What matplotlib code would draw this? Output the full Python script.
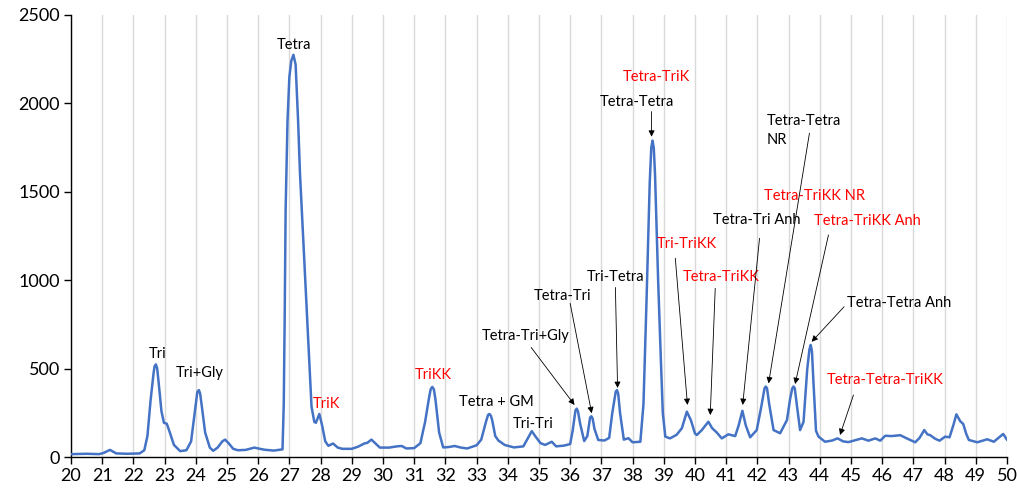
import matplotlib
matplotlib.use("Agg")
import matplotlib.pyplot as plt

# retention time (min) and detector signal
time = [20.0, 20.5, 20.9, 21.05, 21.25, 21.45, 21.8, 22.2, 22.35, 22.45, 22.55, 22.65,
        22.68, 22.72, 22.76, 22.8, 22.9, 22.98, 23.07, 23.15, 23.3, 23.5, 23.7, 23.85,
        23.95, 24.05, 24.1, 24.14, 24.2, 24.3, 24.45, 24.56, 24.7, 24.85, 24.94, 25.05,
        25.2, 25.35, 25.6, 25.88, 26.0, 26.2, 26.5, 26.78, 26.82, 26.85, 26.88, 26.94,
        27.0, 27.06, 27.13, 27.2, 27.28, 27.34, 27.5, 27.61, 27.71, 27.8, 27.85, 27.96,
        28.05, 28.15, 28.25, 28.4, 28.55, 28.7, 29.0, 29.2, 29.4, 29.5, 29.63, 29.75,
        29.9, 30.2, 30.45, 30.6, 30.75, 31.0, 31.2, 31.35, 31.48, 31.53, 31.58, 31.63,
        31.68, 31.8, 31.93, 32.1, 32.3, 32.5, 32.7, 33.0, 33.15, 33.3, 33.37, 33.41,
        33.46, 33.5, 33.6, 33.7, 33.9, 34.2, 34.5, 34.65, 34.77, 34.9, 35.05, 35.2,
        35.41, 35.55, 35.8, 36.0, 36.08, 36.17, 36.21, 36.25, 36.32, 36.45, 36.55, 36.64,
        36.68, 36.72, 36.78, 36.9, 37.1, 37.25, 37.35, 37.46, 37.5, 37.54, 37.6, 37.72,
        37.87, 38.0, 38.25, 38.35, 38.45, 38.55, 38.6, 38.64, 38.68, 38.72, 38.82, 38.9,
        38.97, 39.05, 39.2, 39.41, 39.58, 39.74, 39.87, 40.0, 40.06, 40.22, 40.43, 40.55,
        40.7, 40.86, 41.07, 41.29, 41.4, 41.52, 41.63, 41.77, 41.98, 42.12, 42.23, 42.27,
        42.31, 42.38, 42.52, 42.73, 42.95, 43.05, 43.12, 43.16, 43.2, 43.27, 43.37, 43.48,
        43.6, 43.67, 43.71, 43.75, 43.8, 43.88, 43.96, 44.17, 44.4, 44.57, 44.75, 44.92,
        45.24, 45.35, 45.56, 45.78, 45.94, 46.1, 46.3, 46.58, 46.79, 47.06, 47.2, 47.35,
        47.45, 47.54, 47.7, 47.84, 48.02, 48.16, 48.28, 48.38, 48.5, 48.6, 48.7, 48.78,
        49.05, 49.37, 49.58, 49.88, 50.0]
signal = [18, 20, 18, 25, 42, 22, 20, 22, 40, 120, 320, 480,
          515, 525, 505, 440, 260, 195, 190, 150, 70, 35, 40, 90,
          230, 370, 380, 360, 280, 140, 55, 37, 55, 90, 100, 80,
          48, 40, 42, 55, 50, 43, 38, 45, 300, 800, 1400, 1900,
          2150, 2240, 2275, 2220, 1900, 1605, 1040, 663, 286, 200, 195, 245,
          180, 90, 65, 78, 55, 48, 48, 60, 78, 82, 100, 80,
          55, 55, 62, 64, 50, 52, 80, 200, 340, 385, 398, 385,
          330, 140, 56, 58, 64, 55, 50, 68, 100, 200, 240, 245,
          235, 210, 120, 95, 70, 56, 62, 110, 148, 115, 80, 70,
          88, 62, 66, 75, 150, 265, 275, 260, 190, 92, 120, 225,
          232, 220, 160, 98, 95, 110, 250, 370, 380, 360, 250, 100,
          108, 85, 88, 300, 900, 1550, 1750, 1790, 1750, 1600, 1000, 588,
          250, 117, 107, 127, 164, 258, 210, 135, 126, 154, 201, 165,
          140, 107, 130, 120, 180, 263, 180, 113, 154, 280, 390, 400,
          390, 300, 154, 136, 211, 330, 390, 400, 390, 290, 154, 200,
          500, 610, 635, 600, 420, 150, 117, 88, 95, 107, 90, 86,
          102, 107, 94, 107, 94, 122, 120, 125, 107, 85, 110, 154,
          130, 125, 105, 94, 117, 113, 180, 243, 205, 188, 130, 98,
          85, 102, 88, 132, 100]

# peak labels without arrows: text, x, y, colour
plain_labels = [
    ("Tri", 22.79, 584, "black"),
    ("Tri+Gly", 24.14, 476, "black"),
    ("Tetra", 27.15, 2331, "black"),
    ("TriK", 28.2, 301, "#ff0000"),
    ("TriKK", 31.6, 465, "#ff0000"),
    ("Tetra + GM", 33.63, 312, "black"),
    ("Tri-Tri", 34.81, 188, "black"),
    ("Tetra-TriK", 38.76, 2151, "#ff0000"),
    ("Tetra-TriKK NR", 43.82, 1479, "#ff0000"),
]

# arrowed labels: text, text x, text y, colour, alignment, arrow start, arrow tip
arrow_labels = [
    ("Tetra-Tri+Gly", 34.56, 685, "black", "center", (34.75, 621), (36.14, 296)),
    ("Tetra-Tri", 35.77, 912, "black", "center", (36.0, 870), (36.69, 249)),
    ("Tri-Tetra", 37.47, 1019, "black", "center", (37.45, 960), (37.52, 392)),
    ("Tetra-Tetra", 38.15, 2010, "black", "center", (38.61, 1954), (38.61, 1812)),
    ("Tri-TriKK", 39.75, 1204, "#ff0000", "center", (39.37, 1125), (39.76, 296)),
    ("Tetra-TriKK", 40.83, 1021, "#ff0000", "center", (40.65, 955), (40.49, 239)),
    ("Tetra-Tri Anh", 41.97, 1341, "black", "center", (42.07, 1238), (41.53, 296)),
    ("Tetra-Tetra\nNR", 42.31, 1846, "black", "left", (43.67, 1832), (42.36, 418)),
    ("Tetra-TriKK Anh", 43.82, 1337, "#ff0000", "left", (44.28, 1257), (43.21, 414)),
    ("Tetra-Tetra Anh", 46.55, 870, "black", "center", (44.78, 851), (43.74, 653)),
    ("Tetra-Tetra-TriKK", 46.1, 437, "#ff0000", "center", (45.08, 352), (44.65, 126)),
]

plt.rcParams['font.family'] = ['Lato', 'DejaVu Sans']

fig = plt.figure(figsize=(10.17, 4.9), dpi=100)
ax = fig.add_axes([0.0698, 0.0667, 0.9203, 0.9027])

ax.plot(time, signal, color="#4472C4", lw=1.8, solid_joinstyle="round", zorder=3)

ax.set_xlim(20, 50)
ax.set_ylim(0, 2500)
ax.set_xticks(range(20, 51))
ax.set_yticks(range(0, 2501, 500))
ax.xaxis.grid(True, color="#d9d9d9", lw=1)
ax.set_axisbelow(True)
for side in ("top", "right"):
    ax.spines[side].set_visible(False)
for side in ("left", "bottom"):
    ax.spines[side].set_color("black")
    ax.spines[side].set_linewidth(1)
ax.tick_params(axis="both", direction="out", length=5, width=1, labelsize=13, pad=3)

for text, x, y, col in plain_labels:
    ax.text(x, y, text, color=col, fontsize=10.5, ha="center", va="center")

for text, x, y, col, ha, start, tip in arrow_labels:
    ax.text(x, y, text, color=col, fontsize=10.5, ha=ha, va="center", linespacing=1.5)
    ax.annotate("", xy=tip, xytext=start,
                arrowprops=dict(arrowstyle="-|>", color="black", lw=0.6,
                                mutation_scale=9, shrinkA=0, shrinkB=0))

fig.savefig("out.png", dpi=100)
